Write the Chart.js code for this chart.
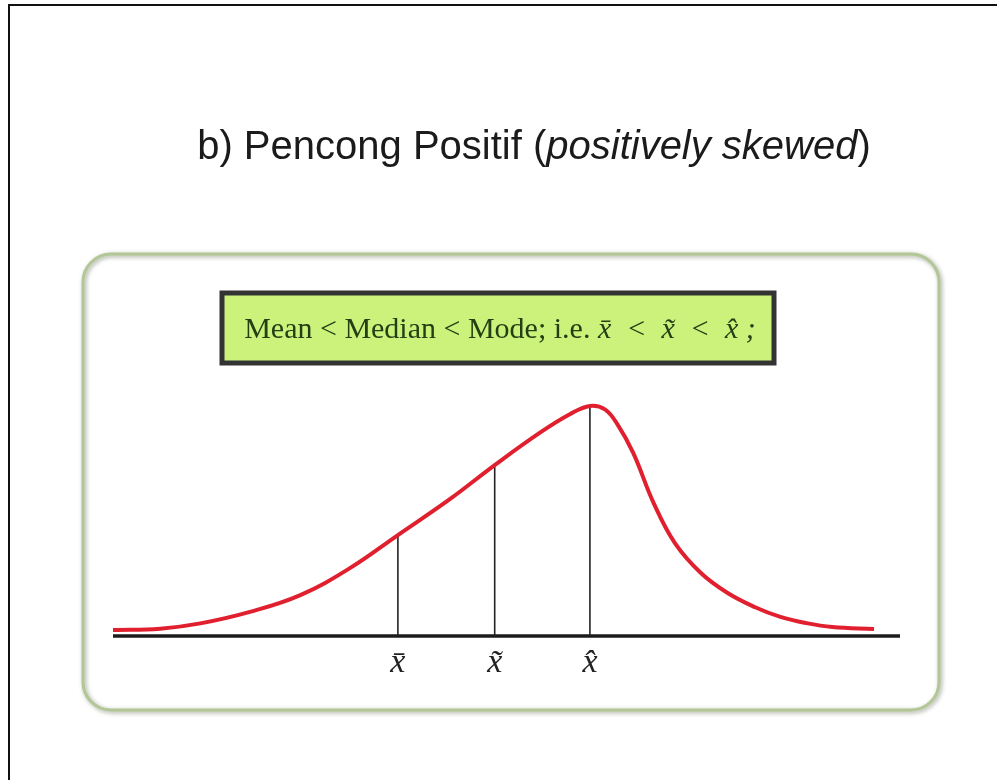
<!DOCTYPE html>
<html>
<head>
<meta charset="utf-8">
<script src="https://cdn.jsdelivr.net/npm/chart.js@4.4.1/dist/chart.umd.min.js"></script>
<style>
  html, body { margin: 0; padding: 0; background: #fff; overflow: hidden; }
  canvas { display: block; }
</style>
</head>
<body>
<canvas id="c" width="997" height="780"></canvas>
<script>
// Positively skewed density: position along the axis and curve height
const curveX = [0, 6.0, 11.1, 17.4, 23.8, 30.1, 36.2, 42.8, 48.5, 54.3, 58.1, 60.6, 62.5, 64.1, 66.1, 68.7, 71.4, 74.7, 78.1, 81.6, 84.8, 88.1, 91.4, 96.7];
const curveY = [2.6, 3.2, 5.5, 10.5, 17.8, 29.5, 43.9, 59.5, 74.3, 88.5, 96.5, 100, 98.5, 92.0, 79.6, 57.8, 40.4, 27.4, 18.7, 12.5, 8.3, 5.6, 3.9, 3.0];

// Mean, median and mode positions with the curve height above each
const markerNames = ['mean', 'median', 'mode'];
const markerX = [36.2, 48.5, 60.6];
const markerY = [43.9, 74.3, 100];
const markerLabels = ['x\u0304', 'x\u0303', 'x\u0302'];

// Horizontal axis extent
const axisX = [0, 100];

const titleParts = [
  { text: 'b) Pencong Positif (', style: 'normal' },
  { text: 'positively skewed', style: 'italic' },
  { text: ')', style: 'normal' }
];
const noteText = 'Mean < Median < Mode; i.e. ';
const noteMath = 'x\u0304  <  x\u0303  <  x\u0302 ;';

function roundRect(ctx, x, y, w, h, r) {
  ctx.beginPath();
  ctx.moveTo(x + r, y);
  ctx.lineTo(x + w - r, y);
  ctx.arcTo(x + w, y, x + w, y + r, r);
  ctx.lineTo(x + w, y + h - r);
  ctx.arcTo(x + w, y + h, x + w - r, y + h, r);
  ctx.lineTo(x + r, y + h);
  ctx.arcTo(x, y + h, x, y + h - r, r);
  ctx.lineTo(x, y + r);
  ctx.arcTo(x, y, x + r, y, r);
  ctx.closePath();
}

// Page frame, panel, heading and the note box behind the plot
const decor = {
  id: 'decor',
  beforeDraw(chart) {
    const ctx = chart.ctx;
    ctx.save();
    ctx.fillStyle = '#ffffff';
    ctx.fillRect(0, 0, chart.width, chart.height);

    // frame lines
    ctx.fillStyle = '#111';
    ctx.fillRect(8, 4, 989, 2);
    ctx.fillRect(8, 4, 2, 776);

    // heading
    ctx.fillStyle = '#1b1b1b';
    ctx.textBaseline = 'alphabetic';
    let total = 0;
    const widths = titleParts.map(p => {
      ctx.font = p.style + ' 40px "Liberation Sans", Arial, sans-serif';
      const w = ctx.measureText(p.text).width;
      total += w;
      return w;
    });
    let tx = 534 - total / 2;
    titleParts.forEach((p, i) => {
      ctx.font = p.style + ' 40px "Liberation Sans", Arial, sans-serif';
      ctx.fillText(p.text, tx, 159);
      tx += widths[i];
    });

    // rounded panel
    ctx.save();
    ctx.shadowColor = 'rgba(80, 95, 65, 0.55)';
    ctx.shadowBlur = 4;
    ctx.shadowOffsetX = 1.5;
    ctx.shadowOffsetY = 1.5;
    ctx.strokeStyle = '#b3c796';
    ctx.lineWidth = 3;
    roundRect(ctx, 83, 254, 856, 456, 28);
    ctx.stroke();
    ctx.restore();

    // note box
    ctx.fillStyle = '#ccf27c';
    ctx.fillRect(222, 293, 552, 70);
    ctx.strokeStyle = '#333';
    ctx.lineWidth = 5;
    ctx.strokeRect(222, 293, 552, 70);

    ctx.fillStyle = '#243f14';
    ctx.textBaseline = 'alphabetic';
    ctx.font = 'normal 30px "Liberation Serif", "Times New Roman", serif';
    const w1 = ctx.measureText(noteText).width;
    ctx.font = 'italic 30px "Liberation Serif", "Times New Roman", serif';
    const w2 = ctx.measureText(noteMath).width;
    let nx = 500 - (w1 + w2) / 2;
    ctx.font = 'normal 30px "Liberation Serif", "Times New Roman", serif';
    ctx.fillText(noteText, nx, 338);
    ctx.font = 'italic 30px "Liberation Serif", "Times New Roman", serif';
    ctx.fillText(noteMath, nx + w1, 338);
    ctx.restore();
  }
};

const markerSets = markerX.map((x, i) => ({
  label: markerNames[i],
  data: [{ x: x, y: 0 }, { x: x, y: markerY[i] }],
  borderColor: '#222',
  borderWidth: 1.6,
  pointRadius: 0,
  tension: 0,
  clip: false
}));

new Chart(document.getElementById('c'), {
  type: 'line',
  data: {
    datasets: [
      {
        label: 'density',
        data: curveX.map((x, i) => ({ x: x, y: curveY[i] })),
        borderColor: '#e0202f',
        borderWidth: 4,
        pointRadius: 0,
        tension: 0.4,
        clip: false
      },
      ...markerSets,
      {
        label: 'axis',
        data: axisX.map(x => ({ x: x, y: 0 })),
        borderColor: '#1c1c1c',
        borderWidth: 3.5,
        pointRadius: 0,
        clip: false
      }
    ]
  },
  options: {
    responsive: false,
    animation: false,
    events: [],
    layout: { padding: { left: 113, right: 97, top: 383, bottom: 100 } },
    plugins: {
      legend: { display: false },
      tooltip: { enabled: false },
      title: { display: false }
    },
    scales: {
      x: {
        type: 'linear',
        min: 0,
        max: 100,
        grid: { display: false, drawTicks: false },
        border: { display: false },
        afterBuildTicks: s => { s.ticks = markerX.map(v => ({ value: v })); },
        afterFit: s => { s.height = 44; },
        ticks: {
          callback: (v, i) => markerLabels[i],
          font: { family: '"Liberation Serif", "Times New Roman", serif', style: 'italic', size: 34 },
          color: '#222',
          padding: 7,
          maxRotation: 0,
          autoSkip: false
        }
      },
      y: { display: false, min: 0, max: 110 }
    }
  },
  plugins: [decor]
});
</script>
</body>
</html>
